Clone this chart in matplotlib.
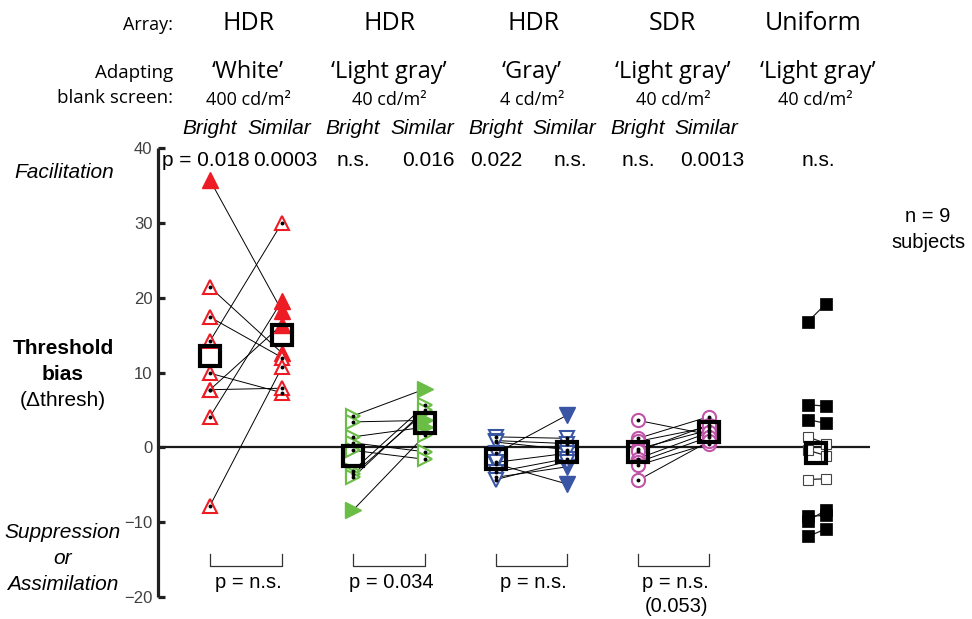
import numpy as np
import matplotlib
matplotlib.use("Agg")
import matplotlib.pyplot as plt

# ---------------- data ----------------
array_names = ["HDR", "HDR", "HDR", "SDR", "Uniform"]
screen_names = ["\u2018White\u2019", "\u2018Light gray\u2019", "\u2018Gray\u2019", "\u2018Light gray\u2019", "\u2018Light gray\u2019"]
screen_lum = ["400 cd/m\u00b2", "40 cd/m\u00b2", "4 cd/m\u00b2", "40 cd/m\u00b2", "40 cd/m\u00b2"]
cond_labels = ["Bright", "Similar"]
p_bright = ["p = 0.018", "n.s.", "0.022", "n.s."]
p_similar = ["0.0003", "0.016", "n.s.", "0.0013"]
p_uniform = "n.s."
p_pair = ["p = n.s.", "p = 0.034", "p = n.s.", "p = n.s.\n(0.053)"]

white_bright = [35.7, 21.4, 17.4, 14.2, 9.9, 7.7, 7.7, 4.1, -7.8]
white_similar = [18.2, 12.6, 12.0, 30.0, 7.3, 7.9, 16.4, 19.6, 10.7]
white_bright_filled = [1, 0, 0, 0, 0, 0, 0, 0, 0]
white_similar_filled = [1, 1, 0, 0, 0, 0, 1, 1, 0]

lgray_bright = [4.2, 3.4, 1.4, 0.6, -0.4, -3.1, -3.6, -4.0, -8.4]
lgray_similar = [7.8, 3.6, 2.7, -0.6, -1.6, 5.6, 4.7, 5.0, 1.6]
lgray_bright_filled = [0, 0, 0, 0, 0, 0, 0, 0, 1]
lgray_similar_filled = [1, 1, 1, 0, 0, 0, 0, 0, 0]

gray_bright = [1.4, 0.9, 0.7, -0.8, -2.2, -2.0, -3.3, -4.0, -4.3]
gray_similar = [1.2, 0.5, -0.3, 4.3, -4.9, -0.8, -1.5, -2.6, -1.9]
gray_bright_filled = [0, 0, 0, 0, 0, 0, 0, 0, 0]
gray_similar_filled = [0, 0, 0, 1, 1, 0, 0, 1, 0]

sdr_bright = [3.6, 1.2, 0.8, -0.2, -0.5, -1.5, -2.0, -2.4, -4.4]
sdr_similar = [1.7, 4.1, 2.7, 2.3, 3.0, 2.0, 1.4, 0.5, 0.8]
sdr_bright_filled = [0] * 9
sdr_similar_filled = [0] * 9

uniform_a = [16.8, 5.7, 3.7, 1.4, -0.4, -4.3, -9.8, -9.2, -11.9]
uniform_b = [19.2, 5.5, 3.2, 0.5, -1.1, -4.2, -8.4, -9.1, -10.9]
uniform_filled = [1, 1, 1, 0, 0, 0, 1, 1, 1]

# ---------------- layout ----------------
W, H = 972, 619
fig = plt.figure(figsize=(W / 100, H / 100), dpi=100)
AX_L, AX_R, AX_T, AX_B = 158, 870, 148, 597
ax = fig.add_axes([AX_L / W, 1 - AX_B / H, (AX_R - AX_L) / W, (AX_B - AX_T) / H])
ax.set_xlim(AX_L, AX_R)
ax.set_ylim(-20, 40)
ax.patch.set_alpha(0)

ARIAL = "Liberation Sans"
MYRIAD = "Open Sans"


def ftext(x, y, s, **kw):
    kw.setdefault("ha", "center")
    kw.setdefault("va", "center")
    kw.setdefault("family", ARIAL)
    fig.text(x / W, 1 - y / H, s, **kw)


groups = [
    (white_bright, white_similar, white_bright_filled, white_similar_filled, "^", "#ED1C24"),
    (lgray_bright, lgray_similar, lgray_bright_filled, lgray_similar_filled, ">", "#6ABD45"),
    (gray_bright, gray_similar, gray_bright_filled, gray_similar_filled, "v", "#3A55A4"),
    (sdr_bright, sdr_similar, sdr_bright_filled, sdr_similar_filled, "o", "#C154A9"),
]
group_x = [(210, 282), (353, 425), (496, 567), (638, 709)]
uni_x = (808, 826)
uni_mean_x = 816

# zero line
ax.axhline(0, color="#1a1a1a", lw=1.6, zorder=1)


def draw_points(x, vals, filled, marker, color):
    size = 9.5 if marker == "o" else 10.5
    for v, f in zip(vals, filled):
        if f:
            ax.plot([x], [v], marker=marker, ms=size + 0.5, mfc=color, mec=color, mew=1.0,
                    ls="none", zorder=3, clip_on=False)
        else:
            ax.plot([x], [v], marker=marker, ms=size, mfc="white", mec=color, mew=1.5,
                    ls="none", zorder=3, clip_on=False)
            ax.plot([x], [v], marker="o", ms=2.8, mfc="black", mec="black", mew=0,
                    ls="none", zorder=4, clip_on=False)


for (bv, sv, bf, sf, mk, col), (bx, sx) in zip(groups, group_x):
    for b, s in zip(bv, sv):
        ax.plot([bx, sx], [b, s], color="black", lw=0.7, zorder=2)
    draw_points(bx, bv, bf, mk, col)
    draw_points(sx, sv, sf, mk, col)
    for xx, vals in ((bx, bv), (sx, sv)):
        ax.plot([xx], [np.mean(vals)], marker="s", ms=14, mfc="none", mec="black",
                mew=3.0, zorder=6)

# uniform
for a, b, f in zip(uniform_a, uniform_b, uniform_filled):
    ax.plot(list(uni_x), [a, b], color="#222222", lw=0.9, zorder=2)
    for xx, v in zip(uni_x, (a, b)):
        if f:
            ax.plot([xx], [v], marker="s", ms=8, mfc="black", mec="black", mew=0.5, zorder=3)
        else:
            ax.plot([xx], [v], marker="s", ms=7.5, mfc="white", mec="#444444", mew=0.8, zorder=3)
ax.plot([uni_mean_x], [np.mean(uniform_a + uniform_b)], marker="s", ms=14, mfc="none",
        mec="black", mew=3.0, zorder=6)

# brackets and paired p-values
for (bx, sx), txt in zip(group_x, p_pair):
    ax.plot([bx, bx, sx, sx], [-14.3, -15.8, -15.8, -14.3], color="#333333", lw=0.9,
            clip_on=False)
    ftext((bx + sx) / 2 + 2, 583, txt.split("\n")[0], fontsize=14.5)
    if "\n" in txt:
        ftext((bx + sx) / 2 + 3, 607, txt.split("\n")[1], fontsize=14.5)

# axes styling
for sp in ("top", "right", "bottom"):
    ax.spines[sp].set_visible(False)
ax.spines["left"].set_linewidth(2.3)
ax.spines["left"].set_color("#231f20")
ax.spines["left"].set_capstyle("butt")
ax.set_xticks([])
ax.set_yticks([-20, -10, 0, 10, 20, 30, 40])
ax.tick_params(axis="y", direction="in", length=5, width=2.3, color="#231f20",
               labelsize=12, labelcolor="#404040", pad=4)
for lab in ax.get_yticklabels():
    lab.set_family(ARIAL)

# ---------------- header text ----------------
ftext(173, 25, "Array:", ha="right", family=MYRIAD, fontsize=13)
for xc, name in zip([248, 389, 533, 672, 813], array_names):
    ftext(xc, 24, name, family=MYRIAD, fontsize=18)

ftext(173, 73, "Adapting", ha="right", family=MYRIAD, fontsize=13.5)
ftext(173, 98, "blank screen:", ha="right", family=MYRIAD, fontsize=13.5)
for xc, name in zip([248, 389, 532, 673, 818], screen_names):
    ftext(xc, 72, name, family=MYRIAD, fontsize=17)
for xc, name in zip([248, 389, 532, 673, 815], screen_lum):
    ftext(xc, 100, name, family=MYRIAD, fontsize=13)

for (bx, sx) in group_x:
    ftext(bx, 128, cond_labels[0], style="italic", fontsize=15)
    ftext(sx - 3, 128, cond_labels[1], style="italic", fontsize=15)

for i, ((bx, sx), pb, ps) in enumerate(zip(group_x, p_bright, p_similar)):
    if pb.startswith("p ="):
        ftext(bx + 40, 160, pb, ha="right", fontsize=15)
    else:
        ftext(bx, 160, pb, fontsize=15)
    ftext(sx + 3, 160, ps, fontsize=15)
ftext(uni_mean_x + 2, 160, p_uniform, fontsize=15)

# left labels
ftext(64, 173, "Facilitation", style="italic", fontsize=15)
ftext(63, 349, "Threshold", weight="bold", fontsize=15)
ftext(63, 374, "bias", weight="bold", fontsize=15)
ftext(63, 400, "(\u0394thresh)", fontsize=15)
ftext(63, 533, "Suppression", style="italic", fontsize=15)
ftext(63, 559, "or", style="italic", fontsize=15)
ftext(63, 584, "Assimilation", style="italic", fontsize=15)

ftext(928, 217, "n = 9", fontsize=14.5)
ftext(928, 242, "subjects", fontsize=14.5)

fig.savefig("out.png", dpi=100)
